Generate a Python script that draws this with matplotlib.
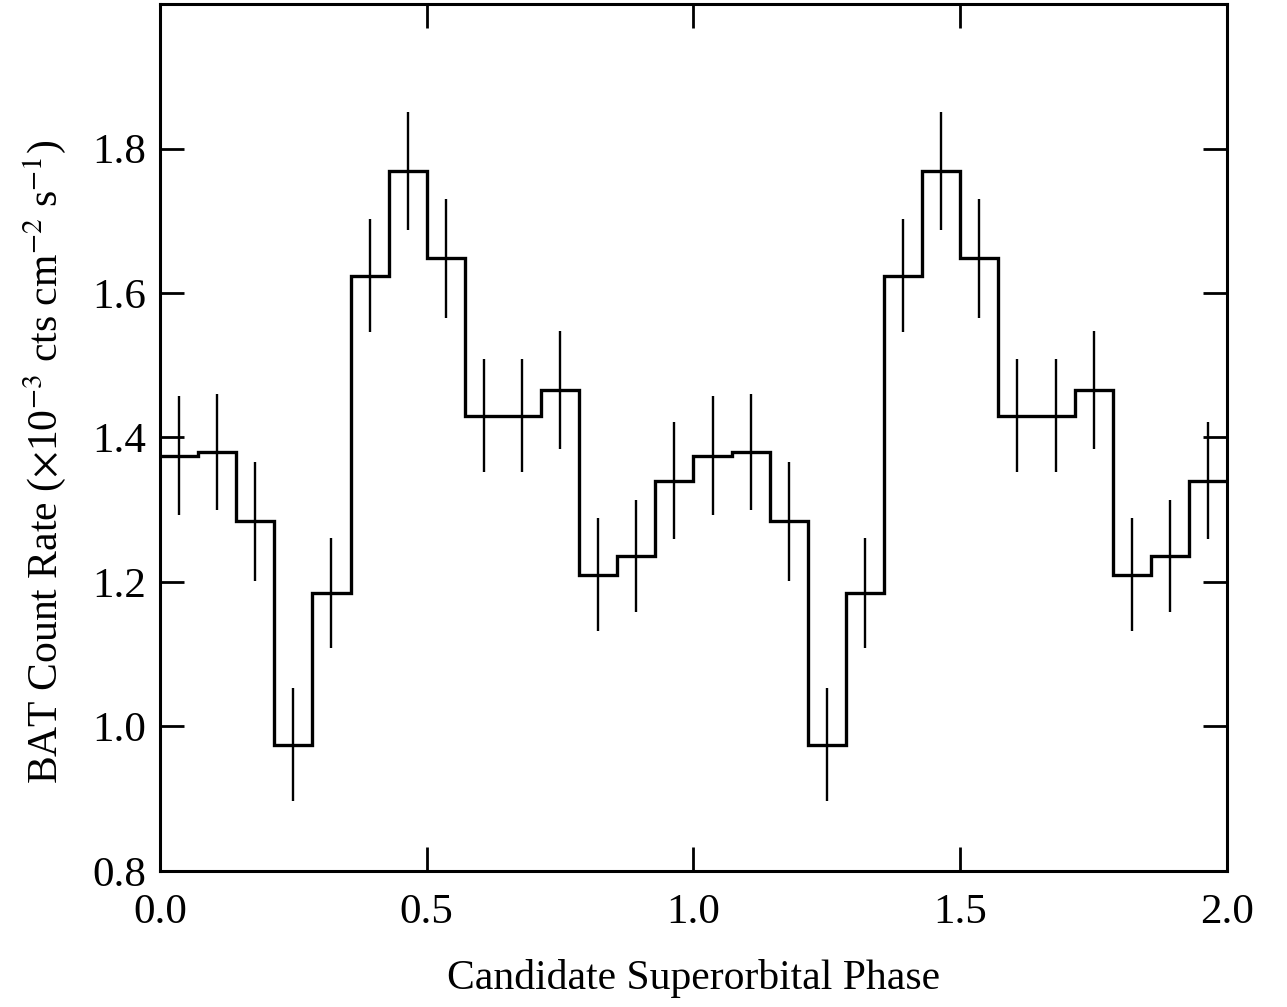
import numpy as np
import matplotlib
matplotlib.use("Agg")
import matplotlib.pyplot as plt

# folded BAT light curve, 14 phase bins per cycle (plotted twice)
nbins = 14
rate = [1.375, 1.380, 1.284, 0.975, 1.185, 1.624, 1.769, 1.648,
        1.430, 1.430, 1.466, 1.210, 1.236, 1.340]
rate_err = [0.082, 0.080, 0.082, 0.078, 0.076, 0.078, 0.082, 0.082,
            0.078, 0.078, 0.082, 0.078, 0.078, 0.081]

plt.rcParams['font.family'] = ['Liberation Serif', 'DejaVu Serif']
plt.rcParams['mathtext.fontset'] = 'stix'

# two cycles
y = np.array(rate * 2)
yerr = np.array(rate_err * 2)
edges = np.arange(2 * nbins + 1) / nbins
centers = 0.5 * (edges[:-1] + edges[1:])

fig = plt.figure(figsize=(12.87, 10.07), dpi=100)
ax = fig.add_axes([0.1243, 0.1351, 0.8291, 0.8609])

ax.stairs(y, edges, color='black', linewidth=2.4, baseline=None)
ax.errorbar(centers, y, yerr=yerr, fmt='none', ecolor='black',
            elinewidth=1.7, capsize=0)

ax.set_xlim(0, 2)
ax.set_ylim(0.8, 2.0)
ax.set_xticks([0.0, 0.5, 1.0, 1.5, 2.0])
ax.set_yticks([0.8, 1.0, 1.2, 1.4, 1.6, 1.8])
ax.set_xticklabels(['0.0', '0.5', '1.0', '1.5', '2.0'])
ax.set_yticklabels(['0.8', '1.0', '1.2', '1.4', '1.6', '1.8'])

ax.tick_params(direction='in', length=17, width=2, top=True, right=True,
               labelsize=31, pad=10)
ax.tick_params(axis='x', pad=16)
for sp in ax.spines.values():
    sp.set_linewidth(2.2)

ax.set_xlabel('Candidate Superorbital Phase', fontsize=30, labelpad=20)
ax.set_ylabel(r'BAT Count Rate ($\times$10$^{-3}$ cts cm$^{-2}$ s$^{-1}$)',
              fontsize=30)
ax.yaxis.set_label_coords(-0.086, 0.472)

fig.savefig('out.png', dpi=100)
